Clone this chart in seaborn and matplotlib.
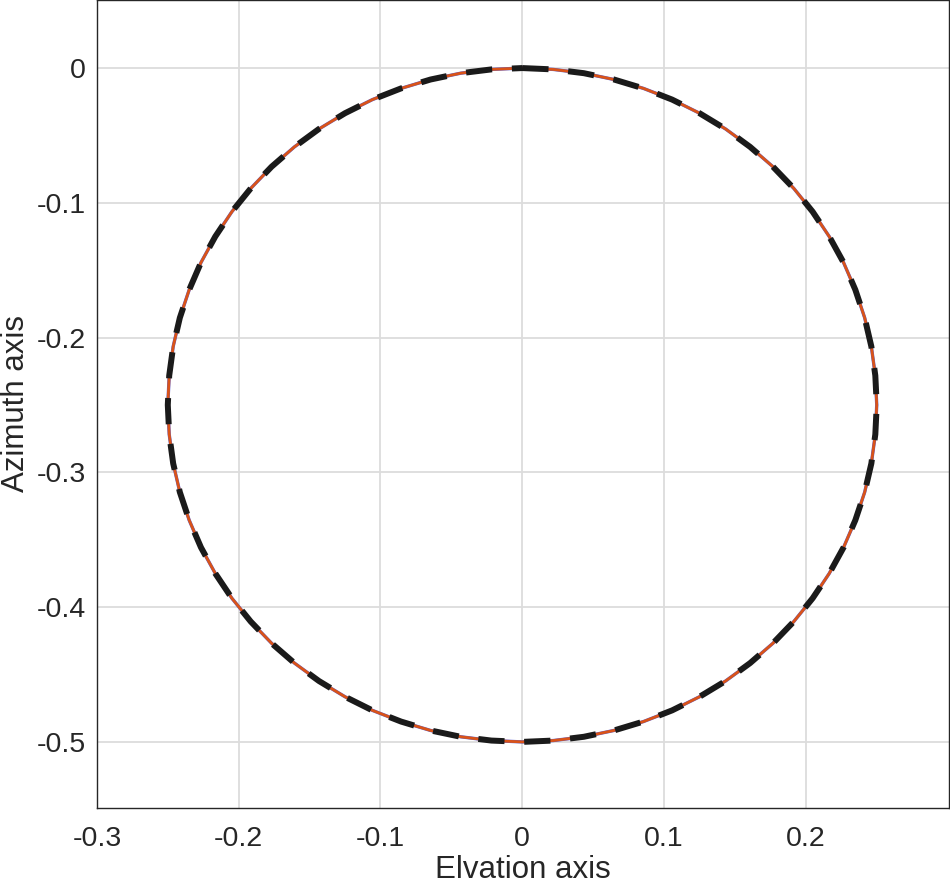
import numpy as np
import pandas as pd
import matplotlib
matplotlib.use("Agg")
import matplotlib.pyplot as plt
import seaborn as sns

# trajectory points (elevation, azimuth), clockwise from the top
elev = [0.0, 0.0218, 0.0434, 0.0647, 0.0855, 0.1057, 0.125, 0.1434, 0.1607, 0.1768,
        0.1915, 0.2048, 0.2165, 0.2266, 0.2349, 0.2415, 0.2462, 0.249, 0.25,
        0.249, 0.2462, 0.2415, 0.2349, 0.2266, 0.2165, 0.2048, 0.1915, 0.1768,
        0.1607, 0.1434, 0.125, 0.1057, 0.0855, 0.0647, 0.0434, 0.0218, 0.0,
        -0.0218, -0.0434, -0.0647, -0.0855, -0.1057, -0.125, -0.1434, -0.1607, -0.1768,
        -0.1915, -0.2048, -0.2165, -0.2266, -0.2349, -0.2415, -0.2462, -0.249, -0.25,
        -0.249, -0.2462, -0.2415, -0.2349, -0.2266, -0.2165, -0.2048, -0.1915, -0.1768,
        -0.1607, -0.1434, -0.125, -0.1057, -0.0855, -0.0647, -0.0434, -0.0218, 0.0]
azim = [0.0, -0.001, -0.0038, -0.0085, -0.0151, -0.0234, -0.0335, -0.0452, -0.0585, -0.0732,
        -0.0893, -0.1066, -0.125, -0.1443, -0.1645, -0.1853, -0.2066, -0.2282, -0.25,
        -0.2718, -0.2934, -0.3147, -0.3355, -0.3557, -0.375, -0.3934, -0.4107, -0.4268,
        -0.4415, -0.4548, -0.4665, -0.4766, -0.4849, -0.4915, -0.4962, -0.499, -0.5,
        -0.499, -0.4962, -0.4915, -0.4849, -0.4766, -0.4665, -0.4548, -0.4415, -0.4268,
        -0.4107, -0.3934, -0.375, -0.3557, -0.3355, -0.3147, -0.2934, -0.2718, -0.25,
        -0.2282, -0.2066, -0.1853, -0.1645, -0.1443, -0.125, -0.1066, -0.0893, -0.0732,
        -0.0585, -0.0452, -0.0335, -0.0234, -0.0151, -0.0085, -0.0038, -0.001, 0.0]

xticks = [-0.3, -0.2, -0.1, 0, 0.1, 0.2]
yticks = [0, -0.1, -0.2, -0.3, -0.4, -0.5]

sns.set_style("white")
plt.rcParams['font.family'] = ['Liberation Sans', 'DejaVu Sans']

df = pd.DataFrame({"elev": elev, "azim": azim})

fig = plt.figure(figsize=(9.5, 8.83), dpi=100)
ax = fig.add_axes([0.102, 0.085, 0.897, 0.915])

sns.lineplot(data=df, x="elev", y="azim", sort=False, ax=ax, color="#5a5fd0", lw=2.4, estimator=None)
sns.lineplot(data=df, x="elev", y="azim", sort=False, ax=ax, color="#d95319", lw=2.0, estimator=None)
sns.lineplot(data=df, x="elev", y="azim", sort=False, ax=ax, color="#1a1a1a", lw=4.3,
             estimator=None, dashes=False, linestyle=(0, (4.4, 3.3)))

ax.set_xlim(-0.3, 0.301)
ax.set_ylim(-0.549, 0.0505)
ax.set_xticks(xticks)
ax.set_yticks(yticks)
ax.set_xticklabels([f"{t:g}" for t in xticks])
ax.set_yticklabels([f"{t:g}" for t in yticks])
ax.grid(True, color="#dcdcdc", lw=1.3)
ax.set_axisbelow(True)
ax.tick_params(direction="in", length=6, width=1, labelsize=20.5, colors="#262626")
ax.tick_params(axis="x", pad=13)
ax.tick_params(axis="y", pad=8)
for s in ax.spines.values():
    s.set_color("#262626")
    s.set_linewidth(1.0)
ax.set_xlabel("Elvation axis", fontsize=22.5, labelpad=2, color="#262626")
ax.set_ylabel("Azimuth axis", fontsize=22.5, labelpad=4, color="#262626")

fig.savefig("out.png", dpi=100)
